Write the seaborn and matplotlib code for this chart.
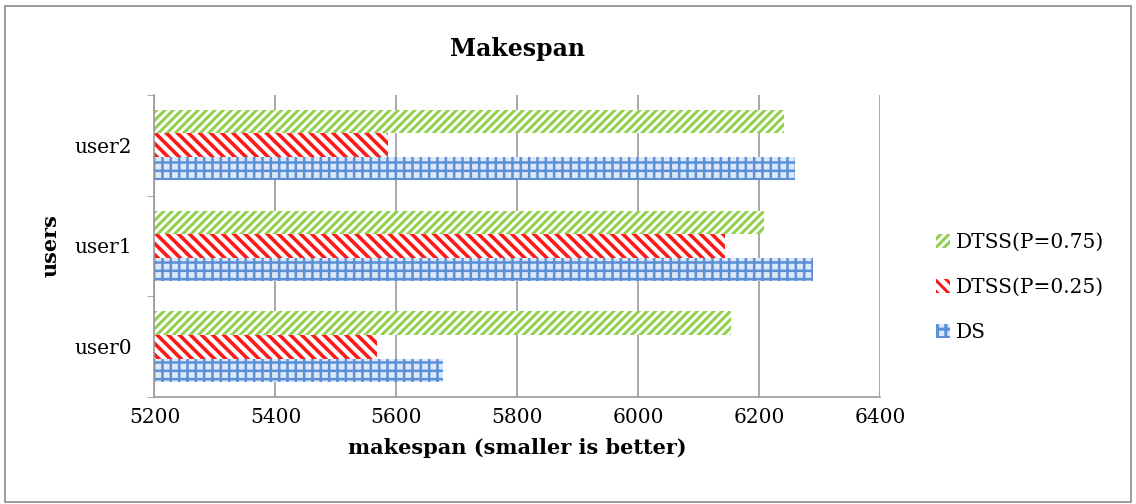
import pandas as pd
import matplotlib
matplotlib.use('Agg')
import matplotlib.pyplot as plt
import seaborn as sns
from matplotlib.patches import Patch, Rectangle

users = ['user2', 'user1', 'user0']
series = ['DTSS(P=0.75)', 'DTSS(P=0.25)', 'DS']
dtss75 = [6240, 6208, 6153]
dtss25 = [5586, 6143, 5567]
ds = [6259, 6289, 5677]

rows = []
for name, vals in zip(series, [dtss75, dtss25, ds]):
    for u, v in zip(users, vals):
        rows.append({'user': u, 'series': name, 'makespan': v})
df = pd.DataFrame(rows)

sns.set_style('white')
plt.rcParams['font.family'] = ['DejaVu Serif']
plt.rcParams['text.color'] = 'black'
plt.rcParams['axes.labelcolor'] = 'black'
plt.rcParams['xtick.labelcolor'] = 'black'
plt.rcParams['ytick.labelcolor'] = 'black'
plt.rcParams['hatch.linewidth'] = 2.2

fig = plt.figure(figsize=(11.36, 5.04), dpi=100)
ax = fig.add_axes([0.136, 0.212, 0.639, 0.6])

sns.barplot(data=df, y='user', x='makespan', hue='series', order=users,
            hue_order=series, orient='h', width=0.7, ax=ax, legend=False)

# face, hatch colour, hatch, hatch width
styles = [('white', '#92d050', '////', 2.2),
          ('white', '#ff1a1a', '\\\\\\', 2.6),
          ('#dce7f7', '#5b8fd6', '++', 1.8)]


def style_patch(p, fc, hc, h, lw):
    p.set_facecolor(fc)
    p.set_edgecolor(hc)
    p.set_hatch(h)
    p.set_linewidth(0)
    if hasattr(p, 'set_hatch_linewidth'):
        p.set_hatch_linewidth(lw)


for container, st in zip(ax.containers, styles):
    for bar in container:
        style_patch(bar, *st)

ax.set_xlim(5200, 6400)
ax.set_xticks(range(5200, 6401, 200))
ax.set_ylim(2.5, -0.5)
ax.set_yticks([-0.5, 0.5, 1.5, 2.5], minor=True)
ax.tick_params(axis='y', which='major', length=0, labelsize=14.5, pad=16)
ax.tick_params(axis='y', which='minor', length=5, color='#999999', direction='out', left=True)
ax.tick_params(axis='x', labelsize=14.5, length=0, pad=8)
ax.grid(axis='x', color='#999999', linewidth=1.2)
ax.set_axisbelow(True)
for s in ['top', 'right']:
    ax.spines[s].set_visible(False)
for s in ['left', 'bottom']:
    ax.spines[s].set_color('#999999')
    ax.spines[s].set_linewidth(1.2)

ax.set_xlabel('makespan (smaller is better)', fontsize=15, fontweight='bold', labelpad=8)
ax.set_ylabel('users', fontsize=15, fontweight='bold', labelpad=10)
ax.set_title('Makespan', fontsize=17, fontweight='bold', pad=28)

handles = []
for st in styles:
    p = Patch()
    style_patch(p, *st)
    handles.append(p)
fig.legend(handles, series, loc='center left', bbox_to_anchor=(0.808, 0.43),
           frameon=False, fontsize=14.5, handlelength=0.7, handleheight=0.7,
           handletextpad=0.3, labelspacing=1.3)

fig.patches.append(Rectangle((0.004, 0.004), 0.992, 0.984, transform=fig.transFigure,
                             fill=False, edgecolor='#8c8c8c', linewidth=1.2))

fig.savefig('out.png', dpi=100)
